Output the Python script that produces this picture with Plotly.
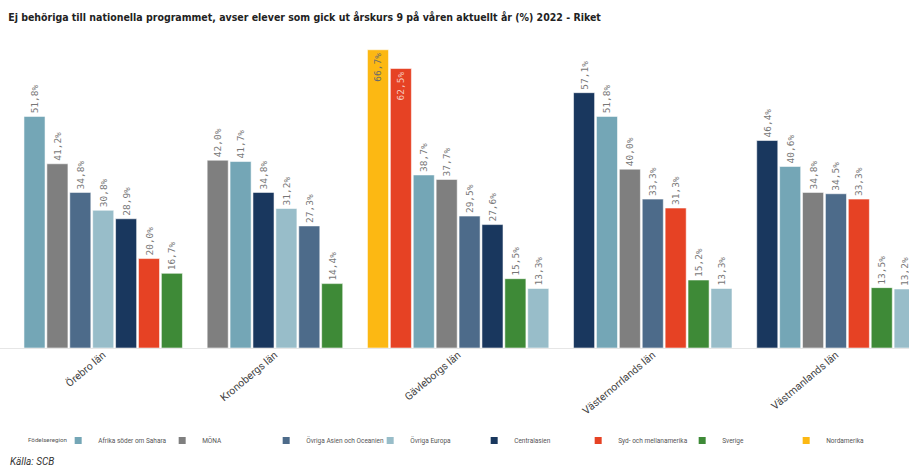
import plotly.graph_objects as go

regions = ["Örebro län", "Kronobergs län", "Gävleborgs län", "Västernorrlands län", "Västmanlands län"]
categories = ["Afrika söder om Sahara", "MÖNA", "Övriga Asien och Oceanien", "Övriga Europa",
              "Centralasien", "Syd- och mellanamerika", "Sverige", "Nordamerika"]

afrika = [51.8, 41.7, 38.7, 51.8, 40.6]
mona = [41.2, 42.0, 37.7, 40.0, 34.8]
ovr_asien = [34.8, 27.3, 29.5, 33.3, 34.5]
ovr_europa = [30.8, 31.2, 13.3, 13.3, 13.2]
centralasien = [28.9, 34.8, 27.6, 57.1, 46.4]
syd_mellan = [20.0, None, 62.5, 31.3, 33.3]
sverige = [16.7, 14.4, 15.5, 15.2, 13.5]
nordamerika = [None, None, 66.7, None, None]

series = [afrika, mona, ovr_asien, ovr_europa, centralasien, syd_mellan, sverige, nordamerika]
colors = ["#74a6b6", "#7f7f7f", "#4d6b8a", "#98bdc9", "#19375e", "#e64224", "#3e8a37", "#fcb813"]
inside_colors = ["#ffffff", "#ffffff", "#ffffff", "#555555", "#ffffff", "#f6c9bf", "#ffffff", "#6b6b6b"]

YMAX = 70

# slot positions: bars sorted descending within each region, one empty slot between regions
pos = {}
tickvals = []
slot = 0
for ri, reg in enumerate(regions):
    items = [(series[ci][ri], ci) for ci in range(len(categories)) if series[ci][ri] is not None]
    items.sort(key=lambda t: -t[0])
    start = slot
    for v, ci in items:
        pos[(ci, ri)] = slot
        slot += 1
    tickvals.append((start + slot - 1) / 2)
    slot += 1

fig = go.Figure()
for ci, cat in enumerate(categories):
    xs, ys, txt, tpos, tcol = [], [], [], [], []
    for ri in range(len(regions)):
        v = series[ci][ri]
        if v is None:
            continue
        xs.append(pos[(ci, ri)])
        ys.append(v)
        txt.append(f"{v:.1f}%".replace(".", ","))
        inside = v > YMAX - 8
        tpos.append("inside" if inside else "outside")
        tcol.append(inside_colors[ci] if inside else "#777777")
    fig.add_trace(go.Bar(
        x=xs, y=ys, width=0.92, name=cat, showlegend=False,
        marker=dict(color=colors[ci], line=dict(color="rgba(255,255,255,0.55)", width=1)),
        text=txt, textposition=tpos, textangle=-90, insidetextanchor="end",
        constraintext="none",
        textfont=dict(family="DejaVu Sans Mono", size=9.5, color=tcol),
        cliponaxis=False, hoverinfo="skip",
    ))
    fig.add_trace(go.Scatter(
        x=[None], y=[None], mode="markers", name=cat,
        marker=dict(symbol="square", size=7, color=colors[ci]),
    ))

fig.update_layout(
    width=909, height=467,
    margin=dict(l=0, r=0, t=35, b=119, autoexpand=False),
    paper_bgcolor="white", plot_bgcolor="white",
    barmode="overlay",
    title=dict(text="<b>Ej behöriga till nationella programmet, avser elever som gick ut årskurs 9 på våren aktuellt år (%) 2022 - Riket</b>",
               x=0.009, xanchor="left", y=0.962, yanchor="middle",
               font=dict(family="DejaVu Sans Condensed, Roboto", size=10.5, color="#222222")),
    xaxis=dict(range=[-1.507, 38.19], tickvals=tickvals, ticktext=regions, tickangle=-40,
               automargin=False, ticklabelstandoff=-4,
               showgrid=False, zeroline=False, showline=True, linecolor="#e6e6e6", linewidth=1,
               ticks="", tickfont=dict(family="Roboto", size=10.5, color="#444444")),
    yaxis=dict(range=[0, YMAX], visible=False, showgrid=False, zeroline=False, automargin=False),
    legend=dict(orientation="h", xref="container", yref="container", x=0.064, y=0.088,
                xanchor="left", yanchor="top",
                font=dict(family="Roboto", size=6.5, color="#555555"),
                entrywidth=59, entrywidthmode="pixels", itemwidth=30),
    annotations=[
        dict(text="Födelseregion", xref="paper", yref="paper", x=0.029, y=(348 - 440) / 313,
             xanchor="left", yanchor="middle", showarrow=False,
             font=dict(family="Roboto", size=6.2, color="#555555")),
        dict(text="<i>Källa: SCB</i>", xref="paper", yref="paper", x=0.0088, y=(348 - 461) / 313,
             xanchor="left", yanchor="middle", showarrow=False,
             font=dict(family="Roboto", size=10, color="#333333")),
    ],
)

fig.write_html("out.html", config={"displayModeBar": False},
               post_script="document.body.style.margin='0';")
